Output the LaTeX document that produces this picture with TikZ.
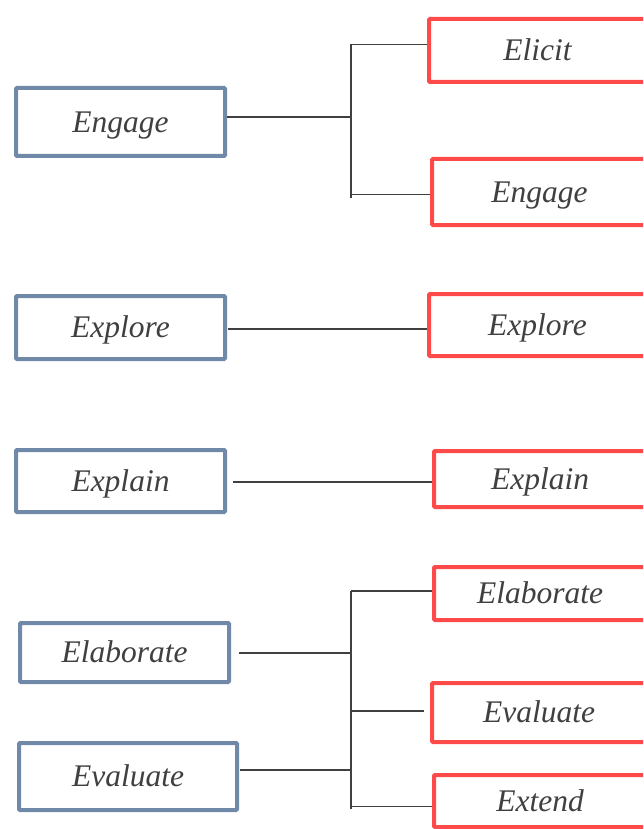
\documentclass[tikz,border=0pt]{standalone}
\usepackage{fontspec}
\setmainfont{Liberation Serif}
\definecolor{phaseblue}{HTML}{7089A8}
\definecolor{phasered}{HTML}{FF4A4A}
\definecolor{inkgray}{HTML}{404040}
\begin{document}
\begin{tikzpicture}[x=1pt,y=-1pt,
  box/.style={rectangle, line width=4pt, fill=white, inner sep=0pt,
    font=\fontsize{31.5}{34}\selectfont\itshape, text=inkgray,
    text height=20.5pt, text depth=0pt},
  oldbox/.style={box, draw=phaseblue, rounded corners=1pt},
  newbox/.style={box, draw=phasered, rounded corners=1pt},
  link/.style={draw=inkgray, line width=1.6pt}]
\useasboundingbox (0,0) rectangle (643,829);
\clip (0,0) rectangle (643,829);
\fill[white] (0,0) rectangle (643,829);

% 5E phases (left column)
\node[oldbox, minimum width=209pt, minimum height=68pt] (b1) at (120.5,122) {Engage};
\node[oldbox, minimum width=209pt, minimum height=63pt] (b2) at (120.5,327.5) {Explore};
\node[oldbox, minimum width=209pt, minimum height=62pt] (b3) at (120.5,481) {Explain};
\node[oldbox, minimum width=209pt, minimum height=59pt] (b4) at (124.5,652.5) {Elaborate};
\node[oldbox, minimum width=218pt, minimum height=67pt] (b5) at (128,776.5) {Evaluate};

% 7E phases (right column)
\node[newbox, minimum width=217pt, minimum height=63pt] (r1) at (537.5,50.5) {Elicit};
\node[newbox, minimum width=215pt, minimum height=66pt] (r2) at (539.5,192) {Engage};
\node[newbox, minimum width=217pt, minimum height=62pt] (r3) at (537.5,325) {Explore};
\node[newbox, minimum width=212pt, minimum height=56pt] (r4) at (540,479) {Explain};
\node[newbox, minimum width=212pt, minimum height=53pt] (r5) at (540,593.5) {Elaborate};
\node[newbox, minimum width=214pt, minimum height=59pt] (r6) at (539,712.5) {Evaluate};
\node[newbox, minimum width=212pt, minimum height=52pt] (r7) at (540,801) {Extend};

% Engage splits into Elicit + Engage
\coordinate (j1) at (351,117);
\coordinate (j1t) at (351,44.5);
\coordinate (j1b) at (351,198);
\coordinate (j1c) at (351,194.5);
\draw[link] (j1 -| b1.east) -- (j1);
\draw[link] (j1t) -- (j1b);
\draw[link] (j1t) -- (j1t -| r1.west);
\draw[link] (j1c) -- (j1c -| r2.west);

% Explore and Explain map one to one
\coordinate (e2) at (0,329);
\coordinate (e3) at (0,482);
\draw[link] ([xshift=1pt]b2.east |- e2) -- (r3.west |- e2);
\draw[link] ([xshift=6pt]b3.east |- e3) -- (r4.west |- e3);

% Elaborate + Evaluate spread over Elaborate, Evaluate, Extend
\coordinate (j2a) at (351,653);
\coordinate (j2b) at (351,770);
\coordinate (j2t) at (351,591);
\coordinate (j2m) at (351,711);
\coordinate (j2e) at (351,806.5);
\coordinate (j2bot) at (351,809);
\draw[link] ([xshift=8pt]b4.east |- j2a) -- (j2a);
\draw[link] ([xshift=1pt]b5.east |- j2b) -- (j2b);
\draw[link] (j2t) -- (j2bot);
\draw[link] (j2t) -- (j2t -| r5.west);
\draw[link] (j2m) -- ([xshift=-6pt]r6.west |- j2m);
\draw[link] (j2e) -- (j2e -| r7.west);
\end{tikzpicture}
\end{document}
